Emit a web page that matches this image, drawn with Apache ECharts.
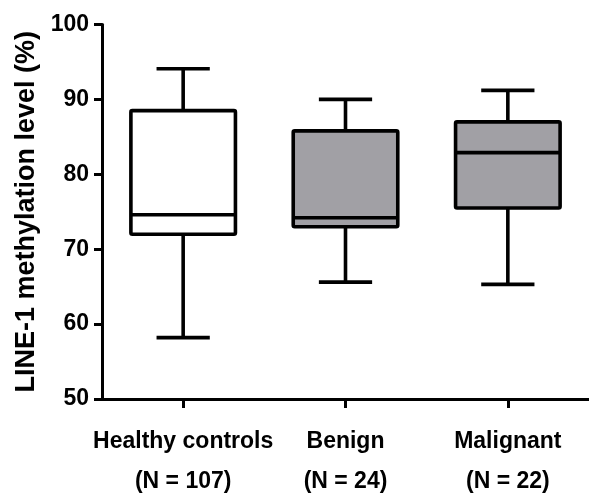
<!DOCTYPE html>
<html>
<head>
<meta charset="utf-8">
<script src="https://cdn.jsdelivr.net/npm/echarts@6/dist/echarts.min.js"></script>
<style>
  html, body { margin: 0; padding: 0; background: #fff; }
  #chart { width: 589px; height: 502px; }
</style>
</head>
<body>
<div id="chart"></div>
<script>
// Groups and their sample sizes
const categories = ['Healthy controls', 'Benign', 'Malignant'];
const groupSizes = [107, 24, 22];

// Five-number summaries (LINE-1 methylation, %)
const minValues    = [58.2, 65.6, 65.3];
const q1Values     = [72.0, 73.0, 75.5];
const medianValues = [74.6, 74.2, 82.9];
const q3Values     = [88.5, 85.8, 87.0];
const maxValues    = [94.1, 90.0, 91.2];

// Y axis ticks
const yTicks = [50, 60, 70, 80, 90, 100];

const boxFills = ['#ffffff', '#a1a0a5', '#a1a0a5'];
const FONT = 'Liberation Sans, Arial, Helvetica, sans-serif';
const INK = '#000';

const boxData = categories.map((c, i) => [
  i, minValues[i], q1Values[i], medianValues[i], q3Values[i], maxValues[i]
]);

// Box with half-width whisker caps
function renderBox(params, api) {
  const idx = api.value(0);
  const band = api.size([1, 0])[0];
  const halfBox = band * 0.322;
  const halfCap = band * 0.164;
  const pMin = api.coord([idx, api.value(1)]);
  const pQ1 = api.coord([idx, api.value(2)]);
  const pMed = api.coord([idx, api.value(3)]);
  const pQ3 = api.coord([idx, api.value(4)]);
  const pMax = api.coord([idx, api.value(5)]);
  const x = pMed[0];
  const lw = 3.6;
  const lineStyle = { stroke: INK, lineWidth: lw, lineCap: 'butt' };
  return {
    type: 'group',
    children: [
      { type: 'line', shape: { x1: x, y1: pQ3[1], x2: x, y2: pMax[1] }, style: lineStyle },
      { type: 'line', shape: { x1: x, y1: pQ1[1], x2: x, y2: pMin[1] }, style: lineStyle },
      { type: 'line', shape: { x1: x - halfCap, y1: pMax[1], x2: x + halfCap, y2: pMax[1] }, style: lineStyle },
      { type: 'line', shape: { x1: x - halfCap, y1: pMin[1], x2: x + halfCap, y2: pMin[1] }, style: lineStyle },
      {
        type: 'rect',
        shape: { x: x - halfBox, y: pQ3[1], width: halfBox * 2, height: pQ1[1] - pQ3[1], r: 1.5 },
        style: { fill: boxFills[idx], stroke: INK, lineWidth: lw, lineJoin: 'round' }
      },
      { type: 'line', shape: { x1: x - halfBox, y1: pMed[1], x2: x + halfBox, y2: pMed[1] }, style: lineStyle }
    ]
  };
}

const chart = echarts.init(document.getElementById('chart'), null, { renderer: 'canvas' });
chart.setOption({
  backgroundColor: '#fff',
  animation: false,
  grid: { left: 102, width: 495, top: 24.5, bottom: 95.3, containLabel: false },
  xAxis: {
    type: 'category',
    data: categories,
    boundaryGap: true,
    axisLine: { show: true, lineStyle: { color: INK, width: 3 } },
    axisTick: { show: true, alignWithLabel: true, length: 9, lineStyle: { color: INK, width: 3 } },
    axisLabel: {
      interval: 0,
      hideOverlap: false,
      margin: 23,
      color: INK,
      fontFamily: FONT,
      fontWeight: 'bold',
      fontSize: 23,
      lineHeight: 40,
      formatter: (name, i) => name + '\n(N = ' + groupSizes[i] + ')'
    },
    splitLine: { show: false }
  },
  yAxis: {
    type: 'value',
    min: yTicks[0],
    max: yTicks[yTicks.length - 1],
    interval: yTicks[1] - yTicks[0],
    name: 'LINE-1 methylation level (%)',
    nameLocation: 'middle',
    nameGap: 62,
    nameTextStyle: { color: INK, fontFamily: FONT, fontWeight: 'bold', fontSize: 27 },
    axisLine: { show: true, lineStyle: { color: INK, width: 3 } },
    axisTick: { show: true, length: 8, lineStyle: { color: INK, width: 3 } },
    axisLabel: { margin: 13, color: INK, fontFamily: FONT, fontWeight: 'bold', fontSize: 23 },
    splitLine: { show: false }
  },
  series: [{
    type: 'custom',
    renderItem: renderBox,
    encode: { x: 0, y: [1, 2, 3, 4, 5] },
    data: boxData,
    clip: false
  }]
});
</script>
</body>
</html>
